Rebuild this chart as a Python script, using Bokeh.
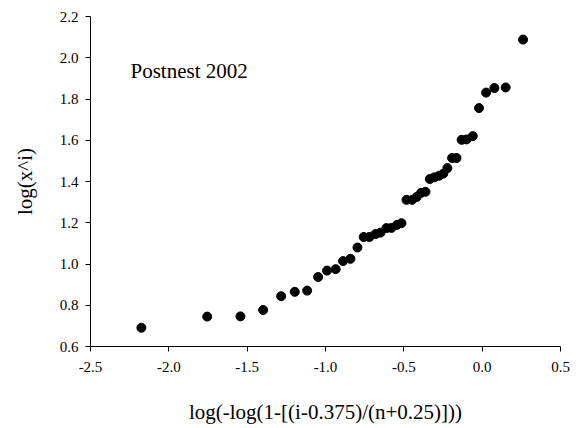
from bokeh.plotting import figure
from bokeh.models import Range1d, FixedTicker, PrintfTickFormatter, Label
from bokeh.embed import file_html
from bokeh.resources import INLINE

# Probability-plot coordinates (x) against log of the ordered observations (y)
x_vals = [-2.175, -1.755, -1.543, -1.398, -1.283, -1.196, -1.117, -1.047, -0.990, -0.935,
          -0.888, -0.841, -0.796, -0.756, -0.720, -0.681, -0.649, -0.611, -0.579, -0.543,
          -0.515, -0.483, -0.447, -0.418, -0.390, -0.362, -0.334, -0.306, -0.275, -0.248,
          -0.222, -0.192, -0.164, -0.131, -0.100, -0.060, -0.020, 0.025, 0.078, 0.150, 0.261]
y_vals = [0.691, 0.745, 0.746, 0.777, 0.844, 0.865, 0.871, 0.937, 0.968, 0.975,
          1.014, 1.025, 1.080, 1.131, 1.131, 1.145, 1.152, 1.174, 1.175, 1.190,
          1.198, 1.311, 1.311, 1.325, 1.345, 1.350, 1.412, 1.420, 1.428, 1.438,
          1.465, 1.514, 1.514, 1.602, 1.604, 1.620, 1.756, 1.831, 1.853, 1.856, 2.088]

x_ticks = [-2.5, -2.0, -1.5, -1.0, -0.5, 0.0, 0.5]
y_ticks = [0.6, 0.8, 1.0, 1.2, 1.4, 1.6, 1.8, 2.0, 2.2]

FONT = "Liberation Serif"

p = figure(width=580, height=428, output_backend="svg", toolbar_location=None,
           x_range=Range1d(-2.5, 0.5), y_range=Range1d(0.6, 2.2),
           min_border_left=90, min_border_right=20, min_border_top=16, min_border_bottom=82)

p.outline_line_color = None
p.xgrid.visible = False
p.ygrid.visible = False
p.background_fill_color = "white"
p.border_fill_color = "white"

p.scatter(x_vals, y_vals, size=9, color="black")

p.xaxis.ticker = FixedTicker(ticks=x_ticks)
p.yaxis.ticker = FixedTicker(ticks=y_ticks)
p.xaxis.formatter = PrintfTickFormatter(format="%.1f")
p.yaxis.formatter = PrintfTickFormatter(format="%.1f")

for ax in (p.xaxis, p.yaxis):
    ax.axis_line_color = "black"
    ax.major_tick_line_color = "black"
    ax.minor_tick_line_color = None
    ax.major_tick_in = 0
    ax.major_tick_out = 5
    ax.major_label_text_font = FONT
    ax.major_label_text_font_size = "15px"
    ax.major_label_text_color = "black"
    ax.axis_label_text_font = FONT
    ax.axis_label_text_font_size = "21px"
    ax.axis_label_text_font_style = "normal"
    ax.axis_label_text_color = "black"

p.xaxis.axis_label = "log(-log(1-[(i-0.375)/(n+0.25)]))"
p.yaxis.axis_label = "log(x^i)"
p.xaxis.major_label_standoff = 10
p.yaxis.major_label_standoff = 7
p.xaxis.axis_label_standoff = 25
p.yaxis.axis_label_standoff = 20

p.add_layout(Label(x=-2.245, y=1.934, text="Postnest 2002", text_font=FONT,
                   text_font_size="21px", text_color="black", text_baseline="alphabetic"))

open("out.html", "w").write(file_html(p, INLINE))
